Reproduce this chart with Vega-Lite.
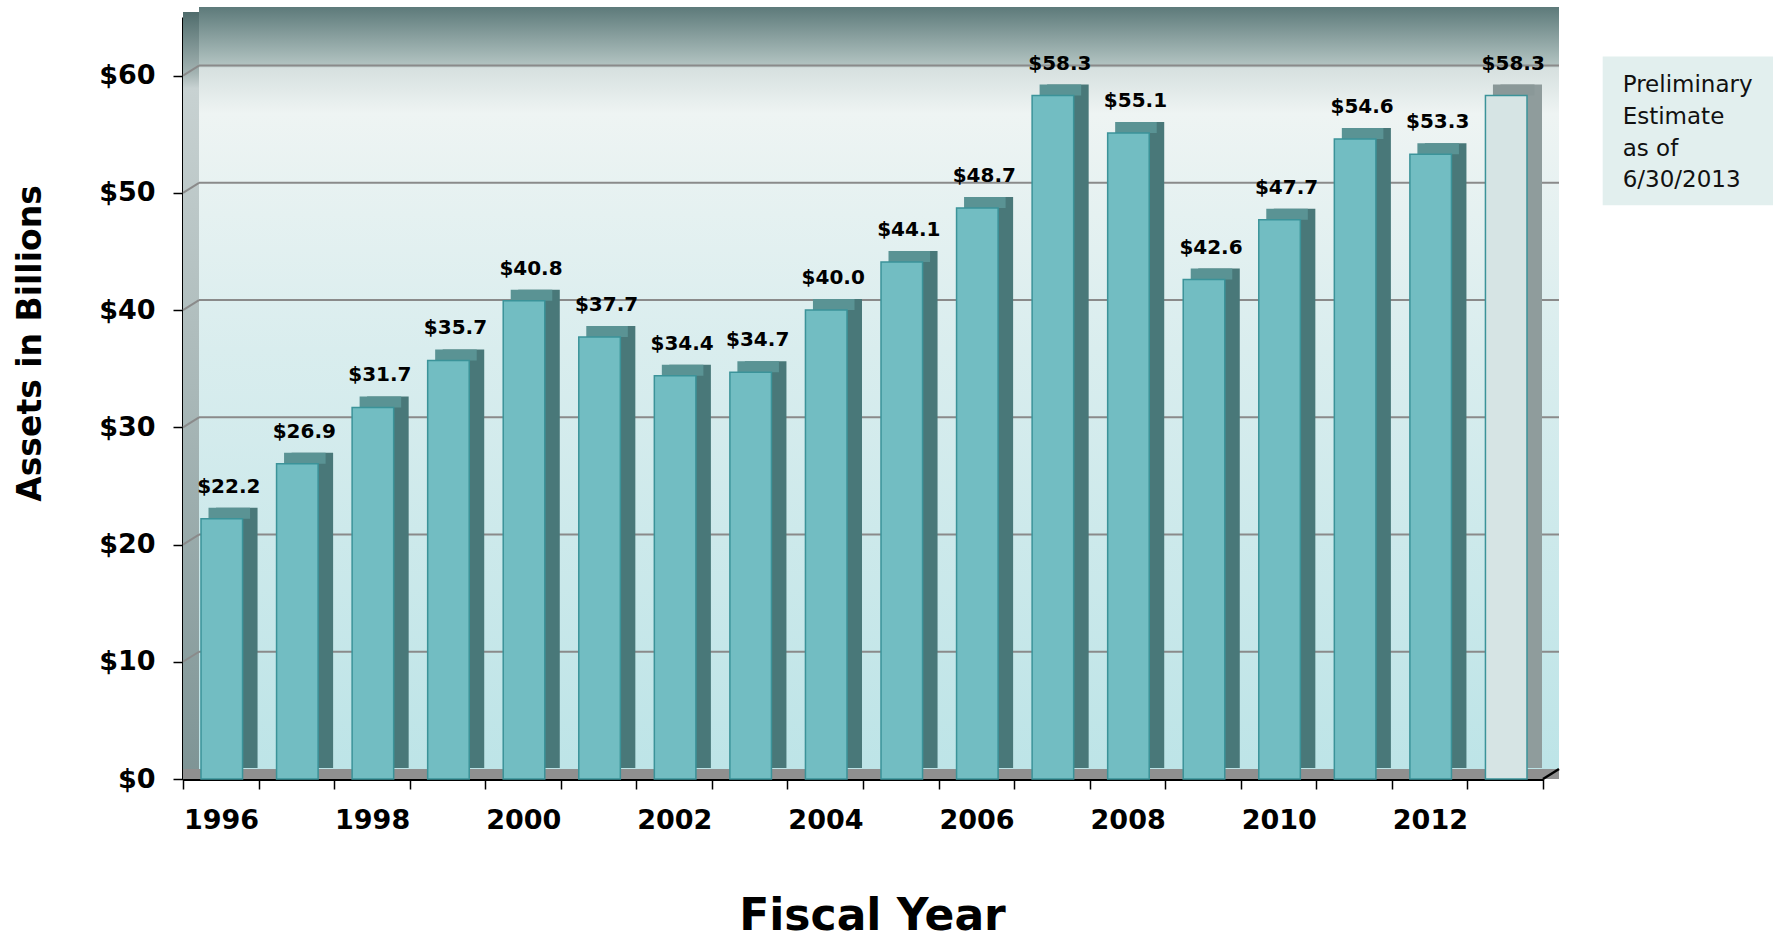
{
  "$schema": "https://vega.github.io/schema/vega-lite/v6.json",
  "width": 1360,
  "height": 762,
  "autosize": {"type": "none"},
  "padding": {"left": 183, "top": 17, "right": 230, "bottom": 159},
  "background": "white",
  "config": {"view": {"stroke": null}, "font": "DejaVu Sans"},
  "data": {
    "values": [
      {"year": 1996, "v": 22.2, "status": "actual"},
      {"year": 1997, "v": 26.9, "status": "actual"},
      {"year": 1998, "v": 31.7, "status": "actual"},
      {"year": 1999, "v": 35.7, "status": "actual"},
      {"year": 2000, "v": 40.8, "status": "actual"},
      {"year": 2001, "v": 37.7, "status": "actual"},
      {"year": 2002, "v": 34.4, "status": "actual"},
      {"year": 2003, "v": 34.7, "status": "actual"},
      {"year": 2004, "v": 40.0, "status": "actual"},
      {"year": 2005, "v": 44.1, "status": "actual"},
      {"year": 2006, "v": 48.7, "status": "actual"},
      {"year": 2007, "v": 58.3, "status": "actual"},
      {"year": 2008, "v": 55.1, "status": "actual"},
      {"year": 2009, "v": 42.6, "status": "actual"},
      {"year": 2010, "v": 47.7, "status": "actual"},
      {"year": 2011, "v": 54.6, "status": "actual"},
      {"year": 2012, "v": 53.3, "status": "actual"},
      {"year": 2013, "v": 58.3, "status": "prelim"}
    ]
  },
  "resolve": {"scale": {"x": "independent"}},
  "layer": [
    {
      "data": {"values": [{}]},
      "layer": [
        {
          "mark": {
            "type": "rect",
            "xOffset": 16, "x2Offset": 16, "yOffset": -10, "y2Offset": -10,
            "fill": {
              "gradient": "linear", "x1": 0, "y1": 0, "x2": 0, "y2": 1,
              "stops": [
                {"offset": 0, "color": "#5d7a7a"},
                {"offset": 0.077, "color": "#b3c4c2"},
                {"offset": 0.08, "color": "#d6e0df"},
                {"offset": 0.14, "color": "#eef4f3"},
                {"offset": 0.45, "color": "#d9edee"},
                {"offset": 1, "color": "#bde4e7"}
              ]
            }
          },
          "encoding": {
            "x": {"datum": 0, "type": "quantitative", "scale": {"domain": [0, 1], "nice": false, "zero": false}, "axis": null},
            "x2": {"datum": 1},
            "y": {"datum": 0, "type": "quantitative", "scale": {"domain": [0, 65], "nice": false}},
            "y2": {"datum": 65}
          }
        },
        {
          "mark": {
            "type": "rect",
            "x2Offset": 16, "yOffset": -5, "y2Offset": -5,
            "fill": {
              "gradient": "linear", "x1": 0, "y1": 0, "x2": 0, "y2": 1,
              "stops": [
                {"offset": 0, "color": "#4f6c6c"},
                {"offset": 0.08, "color": "#a3b3b2"},
                {"offset": 0.1, "color": "#c8d2d2"},
                {"offset": 0.5, "color": "#a9b8b8"},
                {"offset": 1, "color": "#7e9495"}
              ]
            }
          },
          "encoding": {
            "x": {"datum": 0, "type": "quantitative", "scale": {"domain": [0, 1], "nice": false, "zero": false}, "axis": null},
            "x2": {"datum": 0},
            "y": {"datum": 0, "type": "quantitative", "scale": {"domain": [0, 65], "nice": false}},
            "y2": {"datum": 65}
          }
        },
        {
          "mark": {"type": "rect", "x2Offset": 16, "y2Offset": -10, "fill": "#8f8f8f"},
          "encoding": {
            "x": {"datum": 0, "type": "quantitative", "scale": {"domain": [0, 1], "nice": false, "zero": false}, "axis": null},
            "x2": {"datum": 1},
            "y": {"datum": 0, "type": "quantitative", "scale": {"domain": [0, 65], "nice": false}},
            "y2": {"datum": 0}
          }
        },
        {
          "data": {"values": [{"g": 10}, {"g": 20}, {"g": 30}, {"g": 40}, {"g": 50}, {"g": 60}]},
          "mark": {"type": "rule", "xOffset": 16, "x2Offset": 16, "yOffset": -10, "color": "#8a8a8a", "strokeWidth": 2},
          "encoding": {
            "x": {"datum": 0, "type": "quantitative", "scale": {"domain": [0, 1], "nice": false, "zero": false}, "axis": null},
            "x2": {"datum": 1},
            "y": {"field": "g", "type": "quantitative", "scale": {"domain": [0, 65], "nice": false}}
          }
        },
        {
          "data": {"values": [{"g": 10}, {"g": 20}, {"g": 30}, {"g": 40}, {"g": 50}, {"g": 60}]},
          "mark": {"type": "rule", "x2Offset": 16, "y2Offset": -10, "color": "#8a8a8a", "strokeWidth": 2},
          "encoding": {
            "x": {"datum": 0, "type": "quantitative", "scale": {"domain": [0, 1], "nice": false, "zero": false}, "axis": null},
            "x2": {"datum": 0},
            "y": {"field": "g", "type": "quantitative", "scale": {"domain": [0, 65], "nice": false}},
            "y2": {"field": "g"}
          }
        },
        {
          "mark": {"type": "rule", "x2Offset": 16, "y2Offset": -10, "color": "black", "strokeWidth": 2.5},
          "encoding": {
            "x": {"datum": 1, "type": "quantitative", "scale": {"domain": [0, 1], "nice": false, "zero": false}, "axis": null},
            "x2": {"datum": 1},
            "y": {"datum": 0, "type": "quantitative", "scale": {"domain": [0, 65], "nice": false}},
            "y2": {"datum": 0}
          }
        },
        {
          "mark": {"type": "rect", "fill": "#e2efee"},
          "encoding": {
            "x": {"datum": 1.0439, "type": "quantitative", "scale": {"domain": [0, 1], "nice": false, "zero": false}, "axis": null},
            "x2": {"datum": 1.1691},
            "y": {"datum": 48.95, "type": "quantitative", "scale": {"domain": [0, 65], "nice": false}},
            "y2": {"datum": 61.62}
          }
        },
        {
          "mark": {"type": "text", "align": "left", "baseline": "alphabetic", "fontSize": 23, "lineHeight": 31.8, "color": "#111111", "font": "DejaVu Sans"},
          "encoding": {
            "x": {"datum": 1.0586, "type": "quantitative", "scale": {"domain": [0, 1], "nice": false, "zero": false}, "axis": null},
            "y": {"datum": 58.6, "type": "quantitative", "scale": {"domain": [0, 65], "nice": false}},
            "text": {"value": ["Preliminary", "Estimate", "as of", "6/30/2013"]}
          }
        }
      ]
    },
    {
      "layer": [
        {
          "mark": {"type": "bar", "width": {"band": 0.55}, "xOffset": 16, "yOffset": -11, "y2Offset": -11},
          "encoding": {
            "x": {"field": "year", "type": "ordinal", "scale": {"type": "band", "paddingInner": 0, "paddingOuter": 0}},
            "y": {"field": "v", "type": "quantitative", "scale": {"domain": [0, 65], "nice": false}},
            "fill": {"condition": {"test": "datum.status === 'prelim'", "value": "#8f9c9c"}, "value": "#497879"}
          }
        },
        {
          "mark": {"type": "bar", "width": {"band": 0.55}, "xOffset": 8.5, "yOffset": -11, "y2Offset": 0},
          "encoding": {
            "x": {"field": "year", "type": "ordinal", "scale": {"type": "band", "paddingInner": 0, "paddingOuter": 0}},
            "y": {"field": "v", "type": "quantitative", "scale": {"domain": [0, 65], "nice": false}},
            "y2": {"field": "v"},
            "fill": {"condition": {"test": "datum.status === 'prelim'", "value": "#8a9898"}, "value": "#5a9394"}
          }
        },
        {
          "mark": {"type": "bar", "width": {"band": 0.55}, "xOffset": 1, "stroke": "#3b9399", "strokeWidth": 1.5},
          "encoding": {
            "x": {
              "field": "year", "type": "ordinal",
              "scale": {"type": "band", "paddingInner": 0, "paddingOuter": 0},
              "axis": {
                "title": "Fiscal Year",
                "labelExpr": "datum.value % 2 === 0 ? datum.label : ''",
                "tickBand": "extent",
                "labelOffset": 37.8,
                "labelAngle": 0,
                "labelFont": "DejaVu Sans", "labelFontWeight": "bold", "labelFontSize": 27, "labelColor": "black",
                "labelPadding": 31,
                "tickSize": 10, "tickColor": "black", "tickWidth": 1.5,
                "domainColor": "black", "domainWidth": 3,
                "grid": false,
                "titleFont": "DejaVu Sans", "titleFontSize": 44, "titleFontWeight": "bold", "titleColor": "black",
                "titleX": 689, "titleY": 150, "titleBaseline": "alphabetic"
              }
            },
            "y": {
              "field": "v", "type": "quantitative",
              "scale": {"domain": [0, 65], "nice": false},
              "axis": {
                "title": "Assets in Billions",
                "values": [0, 10, 20, 30, 40, 50, 60],
                "format": "$.0f",
                "labelFont": "DejaVu Sans", "labelFontWeight": "bold", "labelFontSize": 27, "labelColor": "black",
                "labelPadding": 18,
                "tickSize": 10, "tickColor": "black", "tickWidth": 1.5,
                "domainColor": "black", "domainWidth": 3,
                "grid": false,
                "titleFont": "DejaVu Sans", "titleFontSize": 33, "titleFontWeight": "bold", "titleColor": "black",
                "titleX": -143, "titleY": 326, "titleBaseline": "alphabetic"
              }
            },
            "fill": {"condition": {"test": "datum.status === 'prelim'", "value": "#d6e4e4"}, "value": "#72bdc2"}
          }
        },
        {
          "mark": {"type": "text", "font": "DejaVu Sans", "fontWeight": "bold", "fontSize": 20, "baseline": "middle", "xOffset": 8, "yOffset": -32, "color": "black"},
          "encoding": {
            "x": {"field": "year", "type": "ordinal", "scale": {"type": "band", "paddingInner": 0, "paddingOuter": 0}},
            "y": {"field": "v", "type": "quantitative", "scale": {"domain": [0, 65], "nice": false}},
            "text": {"field": "v", "type": "quantitative", "format": "$.1f"}
          }
        }
      ]
    }
  ]
}
